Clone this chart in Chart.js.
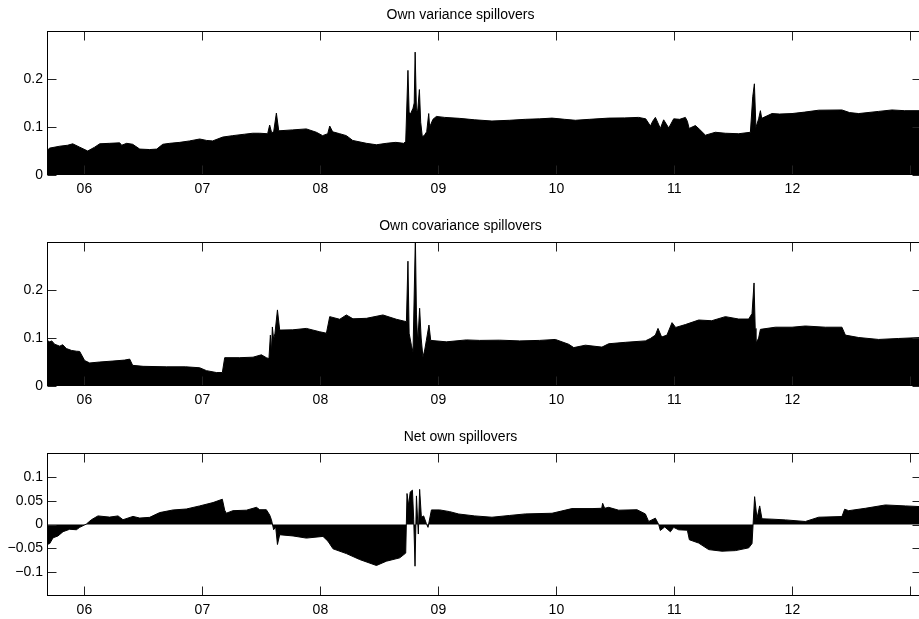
<!DOCTYPE html>
<html>
<head>
<meta charset="utf-8">
<script src="https://cdn.jsdelivr.net/npm/chart.js@4.4.1/dist/chart.umd.min.js"></script>
<style>
html, body { margin: 0; padding: 0; background: #fff; overflow: hidden; width: 919px; height: 619px; }
canvas { position: absolute; left: 0; }
</style>
</head>
<body>
<canvas id="varChart" width="922" height="200" style="top:0px"></canvas>
<canvas id="covChart" width="922" height="200" style="top:211px"></canvas>
<canvas id="netChart" width="922" height="197" style="top:422px"></canvas>
<script>
// dates are decimal years
var xTickYears = [2006, 2007, 2008, 2009, 2010, 2011, 2012, 2013];
var xTickLabels = ['06', '07', '08', '09', '10', '11', '12', ''];
var xStart = 2005.683, xEnd = 2013.09;

var varDates = [2005.683, 2005.706, 2005.791, 2005.858, 2005.901, 2005.960, 2006.028, 2006.087, 2006.130, 2006.214,
  2006.299, 2006.316, 2006.358, 2006.409, 2006.469, 2006.553, 2006.613, 2006.664, 2006.723, 2006.808,
  2006.892, 2006.977, 2007.036, 2007.087, 2007.172, 2007.257, 2007.358, 2007.426, 2007.486, 2007.553,
  2007.570, 2007.587, 2007.604, 2007.627, 2007.647, 2007.765, 2007.881, 2007.966, 2008.019, 2008.062,
  2008.079, 2008.104, 2008.164, 2008.220, 2008.274, 2008.390, 2008.475, 2008.559, 2008.638, 2008.706,
  2008.723, 2008.742, 2008.752, 2008.765, 2008.785, 2008.795, 2008.803, 2008.814, 2008.825, 2008.839,
  2008.850, 2008.864, 2008.884, 2008.901, 2008.918, 2008.926, 2008.954, 2008.983, 2009.053, 2009.180,
  2009.308, 2009.454, 2009.604, 2009.737, 2009.858, 2009.963, 2010.070, 2010.161, 2010.282, 2010.443,
  2010.579, 2010.697, 2010.757, 2010.797, 2010.816, 2010.839, 2010.858, 2010.881, 2010.909, 2010.952,
  2010.994, 2011.045, 2011.093, 2011.110, 2011.125, 2011.178, 2011.214, 2011.263, 2011.347, 2011.432,
  2011.545, 2011.644, 2011.664, 2011.678, 2011.691, 2011.714, 2011.729, 2011.740, 2011.827, 2011.892,
  2011.997, 2012.104, 2012.223, 2012.420, 2012.485, 2012.562, 2012.731, 2012.844, 2012.952, 2013.090];
var varValues = [0.051, 0.056, 0.060, 0.062, 0.065, 0.058, 0.050, 0.058, 0.065, 0.066,
  0.067, 0.062, 0.066, 0.064, 0.054, 0.053, 0.054, 0.064, 0.066, 0.068,
  0.071, 0.075, 0.072, 0.071, 0.079, 0.082, 0.085, 0.087, 0.087, 0.086,
  0.104, 0.088, 0.090, 0.129, 0.092, 0.094, 0.096, 0.089, 0.082, 0.086,
  0.102, 0.090, 0.086, 0.082, 0.072, 0.066, 0.063, 0.066, 0.068, 0.066,
  0.070, 0.218, 0.130, 0.128, 0.139, 0.150, 0.256, 0.135, 0.135, 0.178,
  0.110, 0.079, 0.084, 0.090, 0.128, 0.100, 0.116, 0.122, 0.120, 0.118,
  0.115, 0.1125, 0.114, 0.116, 0.117, 0.1185, 0.116, 0.114, 0.116, 0.1185,
  0.119, 0.120, 0.117, 0.102, 0.112, 0.120, 0.110, 0.097, 0.115, 0.098,
  0.117, 0.116, 0.120, 0.112, 0.097, 0.103, 0.095, 0.083, 0.089, 0.087,
  0.086, 0.089, 0.163, 0.190, 0.099, 0.117, 0.134, 0.118, 0.128, 0.127,
  0.128, 0.131, 0.135, 0.1355, 0.130, 0.128, 0.1325, 0.1355, 0.134, 0.134];

var covDates = [2005.683, 2005.706, 2005.723, 2005.748, 2005.791, 2005.816, 2005.847, 2005.892, 2005.932, 2005.960,
  2006.002, 2006.045, 2006.130, 2006.242, 2006.341, 2006.384, 2006.409, 2006.497, 2006.695, 2006.858,
  2006.977, 2007.034, 2007.119, 2007.169, 2007.189, 2007.316, 2007.429, 2007.500, 2007.542, 2007.564,
  2007.576, 2007.585, 2007.593, 2007.604, 2007.615, 2007.636, 2007.655, 2007.765, 2007.881, 2007.994,
  2008.051, 2008.079, 2008.164, 2008.220, 2008.276, 2008.390, 2008.530, 2008.644, 2008.729, 2008.742,
  2008.752, 2008.771, 2008.785, 2008.805, 2008.814, 2008.825, 2008.841, 2008.854, 2008.869, 2008.884,
  2008.898, 2008.920, 2008.935, 2009.068, 2009.237, 2009.350, 2009.519, 2009.689, 2009.858, 2009.991,
  2010.104, 2010.147, 2010.246, 2010.386, 2010.443, 2010.585, 2010.754, 2010.797, 2010.839, 2010.861,
  2010.892, 2010.937, 2010.980, 2011.011, 2011.093, 2011.206, 2011.316, 2011.432, 2011.545, 2011.630,
  2011.658, 2011.675, 2011.685, 2011.691, 2011.714, 2011.729, 2011.856, 2011.997, 2012.110, 2012.280,
  2012.420, 2012.449, 2012.562, 2012.731, 2012.901, 2013.090];
var covValues = [0.095, 0.092, 0.094, 0.087, 0.083, 0.086, 0.078, 0.074, 0.0725, 0.072,
  0.053, 0.048, 0.050, 0.052, 0.054, 0.056, 0.043, 0.041, 0.040, 0.040,
  0.038, 0.032, 0.028, 0.028, 0.059, 0.059, 0.060, 0.065, 0.059, 0.057,
  0.106, 0.070, 0.123, 0.097, 0.110, 0.1585, 0.1165, 0.117, 0.120, 0.113,
  0.110, 0.1445, 0.139, 0.148, 0.140, 0.141, 0.148, 0.139, 0.134, 0.260,
  0.110, 0.085, 0.071, 0.310, 0.148, 0.090, 0.162, 0.100, 0.060, 0.075,
  0.095, 0.127, 0.095, 0.092, 0.096, 0.095, 0.0955, 0.094, 0.095, 0.097,
  0.087, 0.080, 0.085, 0.081, 0.088, 0.091, 0.094, 0.099, 0.106, 0.120,
  0.102, 0.106, 0.132, 0.122, 0.128, 0.1375, 0.136, 0.1445, 0.1395, 0.1395,
  0.151, 0.2147, 0.120, 0.0885, 0.100, 0.118, 0.1225, 0.1225, 0.125, 0.1225,
  0.1225, 0.106, 0.101, 0.097, 0.099, 0.101];

var netDates = [2005.683, 2005.706, 2005.734, 2005.776, 2005.819, 2005.875, 2005.932, 2005.960, 2006.017, 2006.059,
  2006.115, 2006.214, 2006.285, 2006.327, 2006.412, 2006.469, 2006.553, 2006.638, 2006.751, 2006.864,
  2006.977, 2007.090, 2007.169, 2007.189, 2007.203, 2007.259, 2007.373, 2007.458, 2007.486, 2007.542,
  2007.570, 2007.585, 2007.604, 2007.621, 2007.636, 2007.655, 2007.768, 2007.881, 2008.022, 2008.064,
  2008.107, 2008.220, 2008.333, 2008.475, 2008.559, 2008.672, 2008.723, 2008.734, 2008.748, 2008.761,
  2008.780, 2008.791, 2008.802, 2008.814, 2008.830, 2008.841, 2008.856, 2008.875, 2008.898, 2008.912,
  2008.941, 2009.011, 2009.096, 2009.172, 2009.308, 2009.454, 2009.604, 2009.737, 2009.963, 2010.132,
  2010.302, 2010.384, 2010.392, 2010.409, 2010.443, 2010.528, 2010.683, 2010.754, 2010.782, 2010.839,
  2010.867, 2010.881, 2010.918, 2010.966, 2010.994, 2011.036, 2011.110, 2011.127, 2011.206, 2011.291,
  2011.403, 2011.517, 2011.630, 2011.658, 2011.680, 2011.700, 2011.723, 2011.742, 2011.827, 2011.941,
  2012.110, 2012.223, 2012.420, 2012.443, 2012.477, 2012.619, 2012.788, 2012.958, 2013.090];
var netValues = [-0.042, -0.040, -0.028, -0.024, -0.015, -0.010, -0.011, -0.006, 0.001, 0.010,
  0.018, 0.0155, 0.018, 0.010, 0.017, 0.0135, 0.015, 0.025, 0.0305, 0.0325,
  0.039, 0.046, 0.053, 0.030, 0.0237, 0.029, 0.030, 0.036, 0.031, 0.031,
  0.020, 0.010, -0.011, -0.005, -0.042, -0.0215, -0.024, -0.0285, -0.025, -0.035,
  -0.051, -0.061, -0.0735, -0.086, -0.077, -0.070, -0.060, 0.065, 0.040, 0.068,
  0.072, 0.010, -0.0875, 0.060, -0.020, 0.0737, 0.015, 0.018, 0.002, -0.006,
  0.0306, 0.0306, 0.027, 0.022, 0.018, 0.0153, 0.019, 0.0222, 0.0236, 0.0334,
  0.0334, 0.034, 0.0445, 0.034, 0.036, 0.030, 0.031, 0.0222, 0.0063, 0.0133,
  0.000, -0.0125, -0.005, -0.0153, -0.006, -0.0111, -0.012, -0.032, -0.039, -0.0527,
  -0.056, -0.0548, -0.049, -0.040, 0.0584, 0.013, 0.039, 0.012, 0.0112, 0.0097,
  0.0063, 0.0153, 0.0167, 0.032, 0.029, 0.034, 0.041, 0.039, 0.0375];

var varTicks = [0, 0.1, 0.2];
var covTicks = [0, 0.1, 0.2];
var netTicks = [-0.1, -0.05, 0, 0.05, 0.1];

var font = { family: "'Liberation Sans', Arial, Helvetica, sans-serif", size: 14 };

// inward tick marks and the box round the plot
var frame = {
  id: 'frame',
  afterDatasetsDraw: function (chart) {
    var a = chart.chartArea, c = chart.ctx;
    var xs = chart.scales.x, ys = chart.scales.y;
    var L = Math.round(a.left) + 0.5, R = Math.round(a.right) + 0.5;
    var T = Math.round(a.top) + 0.5, B = Math.round(a.bottom) - 0.5;
    c.save();
    c.strokeStyle = '#222';
    c.lineWidth = 1;
    c.beginPath();
    xTickYears.forEach(function (yr) {
      var px = Math.round(xs.getPixelForValue(yr)) + 0.5;
      c.moveTo(px, T); c.lineTo(px, T + 9);
      c.moveTo(px, B); c.lineTo(px, B - 9);
    });
    ys.ticks.forEach(function (t) {
      var py = Math.round(ys.getPixelForValue(t.value)) + 0.5;
      c.moveTo(L, py); c.lineTo(L + 9, py);
      c.moveTo(R, py); c.lineTo(R - 9, py);
    });
    c.stroke();
    c.strokeStyle = '#000';
    c.strokeRect(L, T, R - L, B - T);
    c.restore();
  }
};

function makePanel(id, title, dates, values, yMin, yMax, yTicks, xHeight) {
  var pts = dates.map(function (d, i) { return { x: d, y: values[i] }; });
  return new Chart(document.getElementById(id), {
    type: 'line',
    data: {
      datasets: [{
        data: pts,
        borderColor: '#000',
        backgroundColor: '#000',
        borderWidth: 1,
        pointRadius: 0,
        tension: 0,
        fill: 'origin'
      }]
    },
    options: {
      responsive: false,
      animation: false,
      devicePixelRatio: 1,
      layout: { padding: { left: 0, right: 1, top: 0, bottom: 0 } },
      plugins: {
        legend: { display: false },
        tooltip: { enabled: false },
        title: {
          display: true,
          text: title,
          color: '#000',
          font: { family: font.family, size: 14, weight: 'normal' },
          padding: { top: 7, bottom: 7.2 }
        }
      },
      scales: {
        x: {
          type: 'linear',
          min: xStart,
          max: xEnd,
          grid: { display: false, drawTicks: false },
          border: { display: false },
          afterBuildTicks: function (s) { s.ticks = xTickYears.map(function (v) { return { value: v }; }); },
          afterFit: function (s) { s.height = xHeight; },
          ticks: {
            color: '#000',
            font: font,
            padding: 6,
            autoSkip: false,
            maxRotation: 0,
            callback: function (v) { return xTickLabels[xTickYears.indexOf(v)]; }
          }
        },
        y: {
          min: yMin,
          max: yMax,
          grid: { display: false, drawTicks: false },
          border: { display: false },
          afterBuildTicks: function (s) { s.ticks = yTicks.map(function (v) { return { value: v }; }); },
          afterFit: function (s) { s.width = 47; },
          ticks: {
            color: '#000',
            font: font,
            padding: 4,
            callback: function (v) { return v < 0 ? '\u2212' + String(-v) : String(v); }
          }
        }
      }
    },
    plugins: [frame]
  });
}

makePanel('varChart', 'Own variance spillovers', varDates, varValues, 0, 0.3, varTicks, 25);
makePanel('covChart', 'Own covariance spillovers', covDates, covValues, 0, 0.3, covTicks, 25);
makePanel('netChart', 'Net own spillovers', netDates, netValues, -0.15, 0.15, netTicks, 23);
</script>
</body>
</html>
